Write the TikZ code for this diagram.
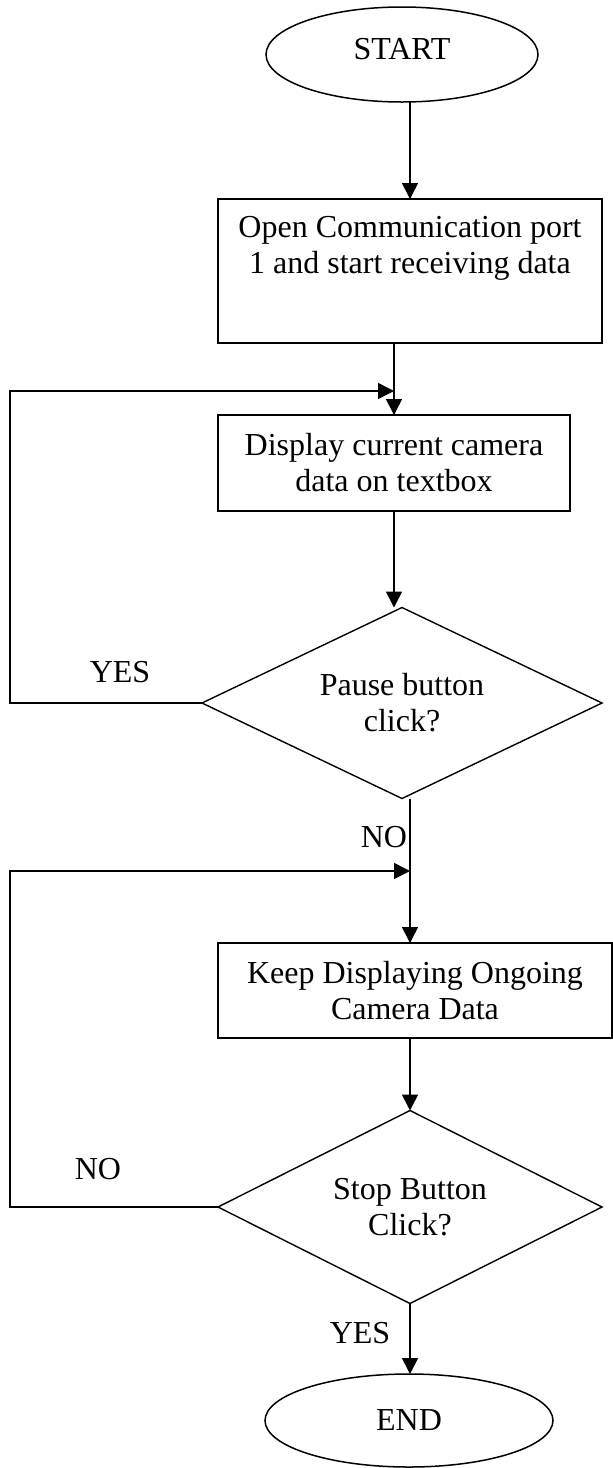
\documentclass[tikz,border=0pt]{standalone}
\usepackage{fontspec}
\setmainfont{Liberation Serif}
\usetikzlibrary{shapes.geometric,arrows.meta}
\begin{document}
\begin{tikzpicture}[x=1pt,y=-1pt,
  every node/.style={font=\fontsize{32}{36}\selectfont, inner sep=0pt, outer sep=0pt},
  box/.style={draw, line width=2pt, rectangle, align=center},
  dia/.style={draw, line width=1.4pt, diamond, aspect=2, align=center},
  term/.style={draw, line width=1.5pt, ellipse},
  txt/.style={align=center},
  arr/.style={line width=1.6pt, -{Triangle[width=16pt,length=16pt]}},
  conn/.style={line width=1.6pt}]
\useasboundingbox (0,0) rectangle (613,1468);

\node[term, minimum width=272pt, minimum height=95pt, text depth=12pt] (start) at (402,54.5) {START};
\node[box, minimum width=384pt, minimum height=144pt] (b1) at (410,271) {};
\node[txt] (b1t) at ([yshift=23pt]b1.center) {Open Communication port\\1 and start receiving data};
\node[box, minimum width=352pt, minimum height=96pt] (b2) at (394,463) {Display current camera\\data on textbox};
\node[dia, minimum width=400pt, minimum height=191pt] (pause) at (402,703) {Pause button\\click?};
\node[box, minimum width=394pt, minimum height=95pt] (b3) at (415,990.5) {Keep Displaying Ongoing\\Camera Data};
\node[dia, minimum width=384pt, minimum height=193pt] (stop) at (410,1207) {Stop Button\\Click?};
\node[term, minimum width=288pt, minimum height=93pt] (end) at (409,1420.5) {END};

\node (yes1) at (120,672) {YES};
\node (no1) at (384,837) {NO};
\node (no2) at (98,1169) {NO};
\node (yes2) at (360,1333) {YES};

\coordinate (lx) at (10,0);
\coordinate (j1) at (394,391);
\coordinate (j2) at (410,871);

\draw[arr] (b1.north |- start.south) -- (b1.north);
\draw[arr] (b1.south -| b2.north) -- (b2.north);
\draw[arr] (pause.west) -- (pause.west -| lx) |- (j1);
\draw[arr] (b2.south) -- (b2.south |- pause.north);
\draw[arr] (pause.south -| stop.north) -- (b3.north -| stop.north);
\draw[arr] (stop.west) -- (stop.west -| lx) |- (j2);
\draw[arr] (b3.south -| stop.north) -- (stop.north);
\draw[arr] (stop.south) -- (stop.south |- end.north);
\end{tikzpicture}
\end{document}
